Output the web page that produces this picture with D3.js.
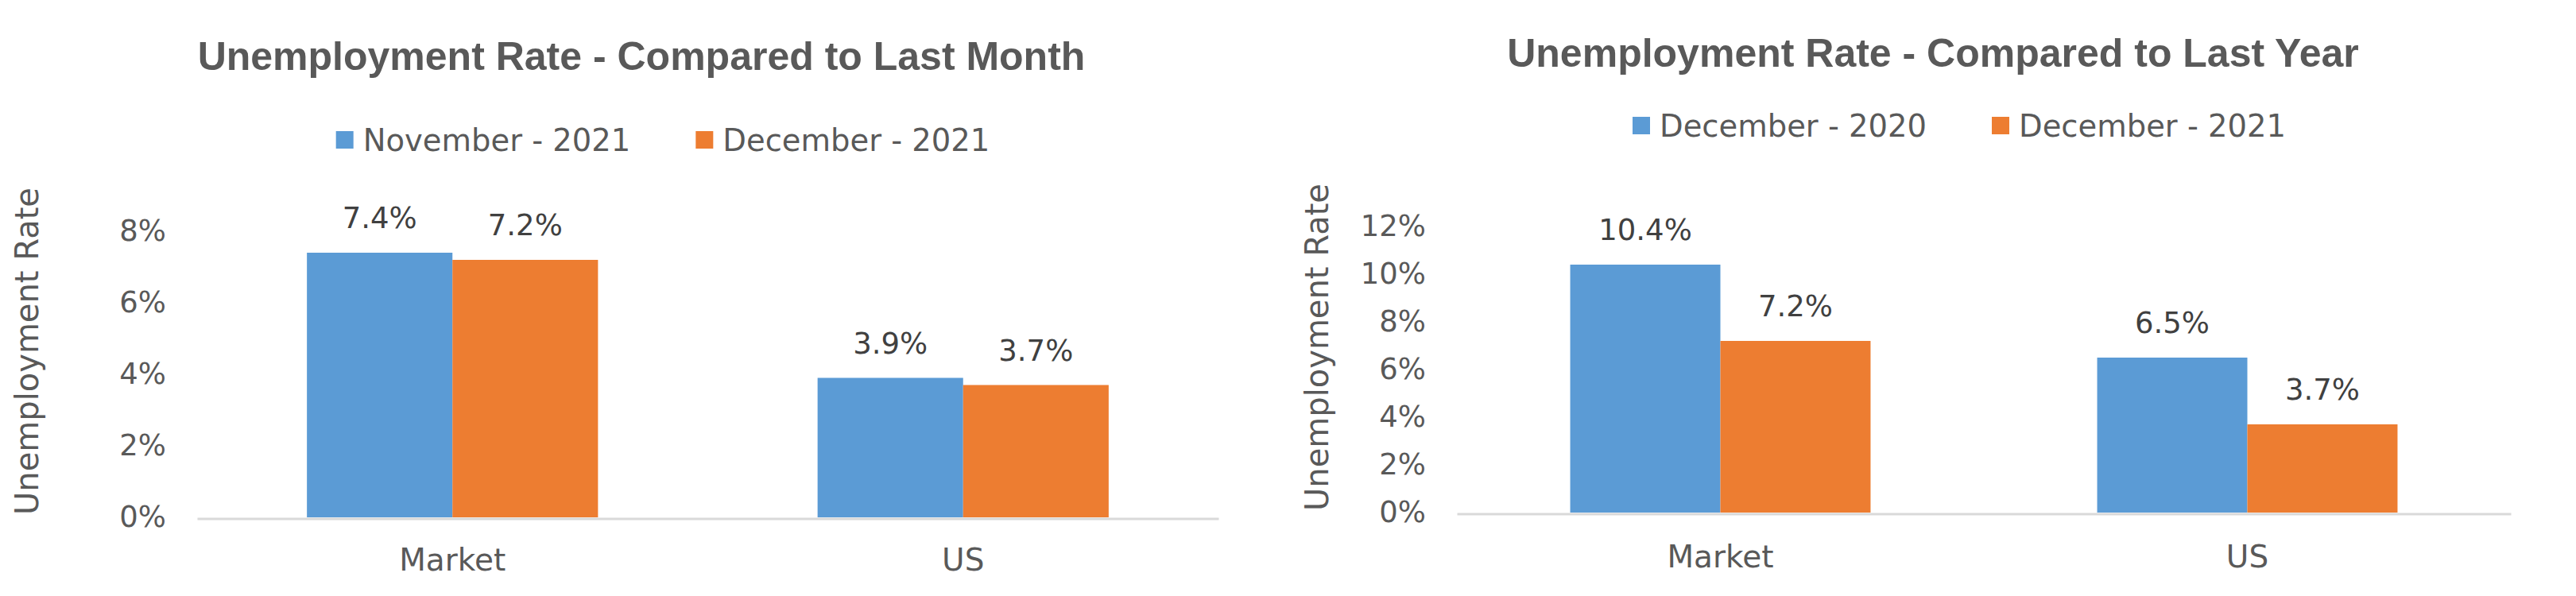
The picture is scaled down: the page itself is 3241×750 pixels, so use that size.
<!DOCTYPE html>
<html>
<head>
<meta charset="utf-8">
<script src="https://cdn.jsdelivr.net/npm/d3@7"></script>
<style>
  html, body { margin: 0; padding: 0; background: #ffffff; }
  svg { display: block; }
</style>
</head>
<body>
<svg id="chart" width="3241" height="750"></svg>
<script>
// ---------------- DATA ----------------
const categories = ["Market", "US"];

const monthTitle = "Unemployment Rate - Compared to Last Month";
const monthSeriesNames = ["November - 2021", "December - 2021"];
const monthNov2021 = [7.4, 3.9];
const monthDec2021 = [7.2, 3.7];
const monthTicks = [0, 2, 4, 6, 8];

const yearTitle = "Unemployment Rate - Compared to Last Year";
const yearSeriesNames = ["December - 2020", "December - 2021"];
const yearDec2020 = [10.4, 6.5];
const yearDec2021 = [7.2, 3.7];
const yearTicks = [0, 2, 4, 6, 8, 10, 12];

const yAxisTitle = "Unemployment Rate";
const seriesColors = ["#5B9BD5", "#ED7D31"];

// ---------------- LAYOUT ----------------
const svg = d3.select("#chart");
const TEXT = "#595959";
const LABEL = "#404040";
const REG = "'DejaVu Sans', sans-serif";
const BOLD = "'Liberation Sans', Arial, sans-serif";

function drawChart(cfg) {
  const g = svg.append("g");

  // title
  g.append("text")
    .attr("x", cfg.titleX).attr("y", cfg.titleY)
    .attr("text-anchor", "middle")
    .attr("font-family", BOLD).attr("font-weight", "bold")
    .attr("font-size", 50).attr("fill", TEXT)
    .text(cfg.title);

  // legend
  const leg = g.append("g");
  let cx = 0;
  cfg.series.forEach((name, i) => {
    const it = leg.append("g").attr("transform", `translate(${cx},0)`);
    it.append("rect").attr("x", 0).attr("y", -22).attr("width", 22).attr("height", 22)
      .attr("fill", seriesColors[i]);
    const t = it.append("text").attr("x", 34).attr("y", 3)
      .attr("font-family", REG).attr("font-size", 38.5).attr("fill", TEXT)
      .text(name);
    const w = t.node().getComputedTextLength();
    cx += 34 + w + 82;
  });
  const lw = cx - 82;
  leg.attr("transform", `translate(${cfg.legendCX - lw / 2},${cfg.legendY})`);

  // scales
  const x0 = d3.scaleBand().domain(categories).range([cfg.x0, cfg.x1])
    .paddingInner(0.43).paddingOuter(0.215);
  const x1 = d3.scaleBand().domain(cfg.series).range([0, x0.bandwidth()]);
  const y = d3.scaleLinear().domain([0, d3.max(cfg.ticks)]).range([cfg.yBase, cfg.yBase - cfg.pxPer * d3.max(cfg.ticks)]);

  // y axis
  const ya = g.append("g").attr("transform", `translate(${cfg.x0},0)`)
    .call(d3.axisLeft(y).tickValues(cfg.ticks).tickSize(0).tickPadding(39).tickFormat(d => d + "%"));
  ya.select(".domain").remove();
  ya.selectAll("text").attr("font-family", REG).attr("font-size", 37).attr("fill", TEXT);

  // bars
  const rows = categories.map((c, i) => ({ cat: c, vals: cfg.values.map(v => v[i]) }));
  const grp = g.selectAll(".grp").data(rows).join("g")
    .attr("transform", d => `translate(${x0(d.cat)},0)`);
  grp.selectAll("rect").data(d => d.vals.map((v, j) => ({ v, s: cfg.series[j], j })))
    .join("rect")
    .attr("x", d => x1(d.s)).attr("width", x1.bandwidth())
    .attr("y", d => y(d.v)).attr("height", d => y(0) - y(d.v))
    .attr("fill", d => seriesColors[d.j]);
  grp.selectAll("text.lab").data(d => d.vals.map((v, j) => ({ v, s: cfg.series[j], j })))
    .join("text").attr("class", "lab")
    .attr("x", d => x1(d.s) + x1.bandwidth() / 2)
    .attr("y", d => y(d.v) - 31)
    .attr("text-anchor", "middle")
    .attr("font-family", REG).attr("font-size", 37).attr("fill", LABEL)
    .text(d => d.v.toFixed(1) + "%");

  // x axis
  const xa = g.append("g").attr("transform", `translate(0,${cfg.yBase + 1.5})`)
    .call(d3.axisBottom(x0).tickSize(0).tickSizeOuter(0).tickPadding(cfg.catPad));
  xa.select(".domain").attr("stroke", "#D9D9D9").attr("stroke-width", 3);
  xa.selectAll("text").attr("font-family", REG).attr("font-size", 39).attr("fill", TEXT);

  // y axis title
  g.append("text")
    .attr("transform", `translate(${cfg.yTitleX},${cfg.yTitleY}) rotate(-90)`)
    .attr("text-anchor", "middle")
    .attr("font-family", REG).attr("font-size", 40).attr("fill", TEXT)
    .text(yAxisTitle);
}

drawChart({
  title: monthTitle, titleX: 807, titleY: 88,
  series: monthSeriesNames, values: [monthNov2021, monthDec2021], ticks: monthTicks,
  legendCX: 834, legendY: 187,
  x0: 248, x1: 1533, yBase: 651, pxPer: 45, catPad: 38,
  yTitleX: 48, yTitleY: 442
});

drawChart({
  title: yearTitle, titleX: 2432, titleY: 84,
  series: yearSeriesNames, values: [yearDec2020, yearDec2021], ticks: yearTicks,
  legendCX: 2465, legendY: 169,
  x0: 1833, x1: 3159, yBase: 645, pxPer: 30, catPad: 40,
  yTitleX: 1671, yTitleY: 437
});
</script>
</body>
</html>
